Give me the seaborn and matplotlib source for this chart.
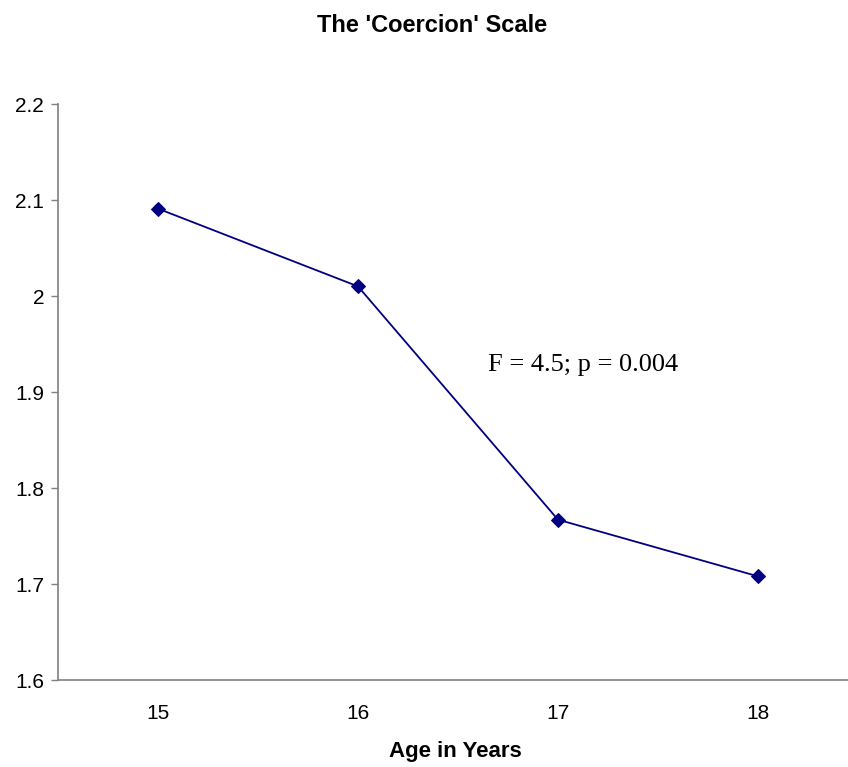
import matplotlib
matplotlib.use('Agg')
import matplotlib.pyplot as plt
import seaborn as sns
import pandas as pd

ages = [15, 16, 17, 18]
coercion = [2.091, 2.010, 1.767, 1.708]
yticks = [1.6, 1.7, 1.8, 1.9, 2.0, 2.1, 2.2]
ytick_labels = ['1.6', '1.7', '1.8', '1.9', '2', '2.1', '2.2']

df = pd.DataFrame({'age': ages, 'score': coercion})

sns.set_style('white')
plt.rcParams['font.family'] = ['Liberation Sans', 'DejaVu Sans']
plt.rcParams['text.color'] = 'black'
plt.rcParams['xtick.color'] = 'black'
plt.rcParams['ytick.color'] = 'black'
plt.rcParams['axes.labelcolor'] = 'black'

fig = plt.figure(figsize=(8.48, 7.67), dpi=100)
ax = fig.add_axes([58/848, 1-680/767, 800/848, (680-104)/767])

sns.lineplot(data=df, x='age', y='score', ax=ax, color='#000080',
             marker='D', markersize=7.5, markeredgecolor='#000080',
             linewidth=1.3)

ax.set_xlim(14.5, 18.5)
ax.set_ylim(1.6, 2.2)
ax.set_xticks(ages)
ax.set_xticklabels([str(a) for a in ages], fontsize=15)
ax.set_yticks(yticks)
ax.set_yticklabels(ytick_labels, fontsize=15)
ax.tick_params(axis='x', length=0, pad=17)
ax.tick_params(axis='y', length=5, width=1, color='#808080', pad=5, left=True)

for s in ['top', 'right']:
    ax.spines[s].set_visible(False)
for s in ['left', 'bottom']:
    ax.spines[s].set_color('#808080')
    ax.spines[s].set_linewidth(1.2)

ax.set_xlabel('')
ax.set_ylabel('')
fig.text(455/848, 1-752/767, 'Age in Years', ha='center', va='center',
         fontsize=16, fontweight='bold')
fig.text(432/848, 1-25/767, "The 'Coercion' Scale", ha='center', va='center',
         fontsize=17, fontweight='bold')

ax.text(16.65, 1.928, 'F = 4.5; p = 0.004', family='Liberation Serif',
        fontsize=19, va='center', ha='left')

fig.savefig('out.png', dpi=100)
